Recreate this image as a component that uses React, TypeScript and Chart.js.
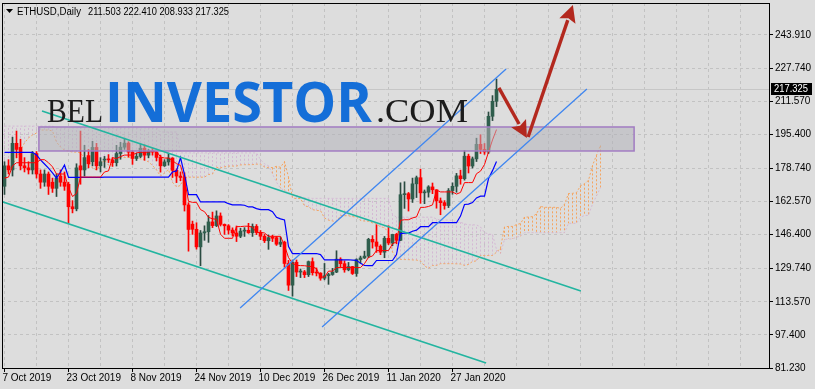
import React, { useEffect, useRef } from 'react';
import { Chart, registerables } from 'chart.js';

Chart.register(...registerables);

// ---------- data (daily bars from 7 Oct 2019, index 0) ----------
const symbolTitle = 'ETHUSD,Daily';
const lastBar = [211.503, 222.41, 208.933, 217.325];

const dateLabels = ['7 Oct 2019', '23 Oct 2019', '8 Nov 2019', '24 Nov 2019', '10 Dec 2019', '26 Dec 2019', '11 Jan 2020', '27 Jan 2020'];
const priceTicks = [81.23, 97.4, 113.57, 129.74, 146.4, 162.57, 178.74, 195.4, 211.57, 227.74, 243.91];

const opens = [
  170, 180, 178, 191, 189, 180, 179, 178, 186, 176, 172, 176, 172, 169, 175, 172, 171, 160, 159, 180, 178, 185, 182, 189, 180,
  182.8, 183.2, 182.9, 181.5, 186.0, 189.1, 191.1, 186.7, 183.6, 184.6, 188.6, 185.2, 187.2, 186.7, 184.1, 180.0, 181.9, 183.8, 177.8, 175.0, 174.3, 160.9, 151.5, 149.0, 140.4, 147.2, 147.8, 152.6, 150.8, 155.5,
  151.4, 150.7, 148.6, 147.2, 145.6, 148.1, 148.5, 147.3, 150.4, 147.4, 145.6, 143.4, 144.9, 144.9, 141.7, 142.7, 132.3, 121.7, 132.9, 128.1, 128.2, 126.8, 133.2, 127.8, 127.6, 125.1, 126.3, 126.9, 128.1, 134.4, 132.2,
  129.2, 130.8, 127.4, 134.2, 135.0, 135.9, 144.1, 142.8, 140.7, 137.8, 144.6, 142.3, 146.5, 143.6, 165.9, 166.4, 163.8, 171.2, 174.2, 166.8, 167.1, 169.7, 168.3, 162.9, 162.0, 160.6, 167.9, 170.0, 175.1, 173.7, 184.7,
  179.9, 183.4, 190.5, 188.0, 186.8, 204.2, 211.503,
];
const highs = [
  182, 183, 194, 197, 193, 184, 182, 187, 187, 178, 178, 177, 174, 176, 178, 177, 172, 163, 181, 197, 190, 188, 192, 191, 184,
  184.6, 185.5, 184, 190, 191.5, 193.5, 191.8, 187.5, 186.1, 190.7, 190.3, 188, 188.6, 187, 185.2, 183, 186, 184, 178.5, 177, 176.6, 162, 153, 152.2, 148.4, 150.7, 155.7, 157.4, 158, 157,
  151.6, 151.3, 149.7, 150.6, 149.5, 149.8, 151.9, 151.6, 151.3, 148.4, 146.5, 146.2, 146.1, 145.5, 145.2, 143.2, 133.8, 134, 134, 129.6, 128.9, 133.5, 135, 130.1, 127.8, 132.3, 127.5, 129.9, 138.5, 135.1, 133.6,
  132.8, 130.9, 134.6, 135.9, 138.3, 144.6, 145.9, 151.2, 141.4, 145.5, 150.7, 146.6, 147, 171.7, 172.2, 167, 174, 175, 178.4, 168.2, 170.3, 171.6, 168.3, 164.3, 163, 168.9, 171.7, 176.3, 177.9, 187.5, 185.7,
  184.3, 193.5, 195.2, 190.9, 206.3, 214.3, 222.41,
];
const lows = [
  166, 176, 175, 184, 178, 177, 176, 176, 174, 169, 170, 166, 167, 165, 170, 168, 152, 157, 158, 171, 175, 179, 180, 178, 177,
  179.2, 181.6, 179.7, 179.9, 183.2, 188, 184.3, 180.7, 182.6, 184, 182.7, 183.9, 185.2, 182.4, 176.9, 179.7, 180.3, 174.3, 171.8, 172.7, 157.9, 138.3, 146.5, 139.3, 131.2, 143.6, 142.6, 149.8, 150.3, 150.6,
  146.5, 146.6, 145.7, 143, 144.9, 145.5, 147, 145.5, 146.4, 143.9, 142.5, 139.2, 143, 141.1, 140.5, 130.5, 119.1, 116.3, 125.9, 125.4, 125.4, 125.9, 126.6, 126.2, 124.1, 124.3, 122.1, 126.5, 127.8, 130.4, 128,
  128.7, 126.9, 126, 132.5, 134.7, 135.1, 139.8, 137.7, 136.6, 135.1, 141.5, 141, 141.9, 143.4, 159.2, 157.9, 162.1, 164.5, 161.7, 161.5, 164.7, 166.4, 159.3, 156.1, 158.8, 159.6, 166.1, 167.1, 171, 173, 176.5,
  178.9, 182.1, 186, 185.6, 186, 202.1, 208.933,
];
const closes = [
  180, 178, 191, 188, 180, 179, 178, 186, 176, 172, 176, 170, 169, 174, 172, 170, 160, 159, 179, 178, 184, 181, 189, 180, 182,
  183.2, 182.9, 181.5, 186.0, 189.1, 191.1, 186.7, 183.6, 184.6, 188.6, 185.2, 187.2, 186.7, 184.1, 180.0, 181.9, 183.8, 177.8, 175.0, 174.3, 160.9, 148.9, 149.0, 140.4, 147.2, 147.8, 152.6, 150.8, 155.5, 151.4,
  150.7, 148.6, 147.2, 145.6, 148.1, 148.5, 147.3, 150.4, 147.4, 145.6, 143.4, 144.9, 144.6, 141.7, 142.7, 132.3, 121.7, 132.9, 128.1, 128.2, 126.8, 133.2, 127.8, 127.6, 125.1, 126.3, 126.9, 128.1, 134.4, 132.2, 129.2,
  130.8, 127.4, 134.2, 135.0, 135.9, 144.1, 142.8, 140.7, 137.8, 144.6, 142.3, 146.5, 143.6, 165.9, 166.4, 163.8, 171.2, 174.2, 166.8, 167.1, 169.7, 168.3, 162.9, 162.0, 160.6, 167.9, 170.0, 175.1, 173.7, 184.7, 179.9,
  183.4, 190.5, 188.0, 186.8, 204.2, 211.5, 217.325,
];

// Ichimoku lines
const tenkan = [
  174, 174.5, 180, 181.5, 181.5, 181.5, 181.5, 181.5, 181.5, 183, 183, 181.5, 179.5, 176, 176, 176, 169.5, 165, 166.5, 174.5, 174.5, 174.5, 174.5, 174.5, 174.5,
  177, 177.5, 184, 183.5, 184.5, 185.25, 185.25, 185.25, 186.35, 186.6, 186.6, 186.7, 187.1, 187.1, 184.35, 183.8, 183.8, 182.5, 181.05, 180.2, 173.25, 162.65, 162.15, 162.15, 158.6, 157.6, 154.85, 154.1, 153.9, 146.6,
  144.6, 144.6, 144.6, 150.3, 150.3, 150.5, 150.5, 150, 147.45, 147.45, 147.2, 145.55, 145.55, 145.55, 145.55, 141.05, 135.2, 132.35, 131.4, 131.25, 131.2, 130.9, 130.75, 129.75, 125.65, 125.65, 128.55, 128.55, 130.3, 130.3, 130.3,
  130.3, 130.3, 130.3, 130.3, 132.25, 135.3, 135.95, 138.6, 138.6, 138.6, 138.6, 141.85, 142.95, 153.4, 153.65, 153.65, 154.55, 155.05, 159.7, 159.7, 160.15, 160.9, 168.15, 167.25, 167.25, 167.25, 167.25, 166.2, 167, 171.8, 171.8,
  171.8, 176.15, 177.4, 180.65, 186.7, 192.65, 197.7,
];
const kijun = [
  186.6, 186.6, 186.6, 186.6, 186.6, 186.6, 186.6, 186.6, 185.3, 182.9, 180.9, 178.9, 176.5, 174, 177, 180.4, 174.4, 174.4, 174.4, 174.4, 174.4, 174.4, 174.4, 174.4, 174.4,
  174.5, 174.5, 174.5, 174.5, 174.5, 174.5, 174.5, 174.5, 174.5, 174.5, 174.5, 174.5, 174.5, 174.5, 174.5, 174.5, 174.5, 177, 177.5, 184, 175.7, 165.9, 165.9, 165.9, 162.35, 162.35, 162.35, 162.35, 162.35, 162.35,
  162.35, 161.5, 160.95, 160.95, 160.95, 160.75, 159.9, 159.9, 159.1, 158.6, 158.6, 158.6, 157.6, 154.85, 154.1, 153.55, 140.55, 137.15, 137.15, 137.15, 137.15, 137.15, 137.15, 137.15, 136.65, 134.1, 134.1, 134.1, 134.1, 134.1, 134.1,
  134.1, 133.95, 133.8, 132.35, 131.4, 131.25, 131.2, 133.75, 133.75, 133.75, 133.75, 133.75, 136.65, 146.9, 147.15, 147.15, 148.05, 148.55, 150.25, 150.25, 150.25, 152.2, 152.2, 152.2, 152.2, 152.2, 152.2, 152.2, 155.45, 161.1, 161.3,
  162.05, 164.3, 165.15, 165.15, 173.65, 177.65, 182.15,
];
// Senkou spans, already shifted 26 bars ahead (index 0..149)
const spanA = [
  175.5, 178, 180.4, 183.8, 187.7, 191.2, 193.6, 195.1, 196.0, 197.5, 197.5, 197.5, 197.0, 191.6, 189.2, 187.7, 187.2, 186.7, 186.7, 186.3, 183.8, 181.4, 178.9, 178.0, 180.4, 182.9,
  180.3, 180.55, 183.3, 184.05, 184.05, 184.05, 184.05, 184.05, 183.4, 182.95, 181.95, 180.2, 178, 175, 176.5, 178.2, 171.95, 169.7, 170.45, 174.45, 174.45, 174.45, 174.45, 174.45,
  174.45, 175.75, 176, 179.25, 179, 179.5, 179.875, 179.875, 179.875, 180.425, 180.55, 180.55, 180.6, 180.8, 180.8, 179.425, 179.15, 179.15, 179.75, 179.275, 182.1, 174.475, 164.275, 164.025, 164.025, 160.475,
  159.975, 158.6, 158.225, 158.125, 154.475, 153.475, 153.05, 152.775, 155.625, 155.625, 155.625, 155.2, 154.95, 153.275, 153.025, 152.9, 152.075, 151.575, 150.2, 149.825, 147.3, 137.875, 134.75, 134.275, 134.2, 134.175,
  134.025, 133.95, 133.45, 131.15, 129.875, 131.325, 131.325, 132.2, 132.2, 132.2, 132.2, 132.125, 132.05, 131.325, 131.825, 133.275, 133.575, 136.175, 136.175, 136.175, 136.175, 137.8, 139.8, 150.15, 150.4, 150.4,
  151.3, 151.8, 154.975, 154.975, 155.2, 156.55, 160.175, 159.725, 159.725, 159.725, 159.725, 159.2, 161.225, 166.45, 166.55, 166.925, 170.225, 171.275, 172.9, 180.175, 185.15, 189.925,
];
const spanB = [
  199.4, 199.4, 199.4, 199.4, 199.4, 199.4, 199.4, 199.4, 199.4, 199.4, 199.4, 199.4, 199.4,
  198.5, 198.5, 198.5, 198.5, 198.5, 198.5, 198.5, 198.5, 198.5, 198.5, 198.5, 198.5, 198.5, 198.5, 198.5, 198.5, 198.5, 198.5, 198.5, 198.5, 198.5, 198.5, 198.5, 198.5, 198.5, 198.5,
  196.5, 196.5, 196.5, 196.5, 196.5,
  186.3, 186.3, 186.3, 186.3, 186.3, 186.3, 186.3, 186.3, 186.3, 186.3, 186.3, 186.3, 186.3, 186.3, 186.3, 186.3, 186.3, 186.3, 186.3, 186.3,
  183, 181, 180, 176, 172, 169, 168, 167, 166, 165.5, 165, 164.5, 164.3,
  164.1, 164.1, 164.1, 164.1, 164.1, 164.1, 164.1, 164.1, 164.1, 164.1, 164.1, 164.1, 164.1, 164.1, 164.1, 164.1, 164.1, 164.1, 164.1, 164.1,
  156.3, 154.9, 154.9, 154.9, 154.9, 154.9, 154.9, 154.9, 154.9, 154.9, 154.9, 154.05, 153.5, 153.5, 153.5, 153.3, 152.45, 152.45, 151.65, 151.15, 151.15, 151.15,
  150.15, 147.4, 146.65, 146.45, 139.15, 137.15, 144, 144.25, 144.25, 145.15, 145.65,
  147.35, 147.35, 147.35, 147.35, 147.35, 147.35, 147.35, 147.35, 147.35, 147.35, 147.35,
  151.9, 151.9, 151.9, 154.9, 155.75, 155.75, 161.3, 165.3, 169.35,
];

// drawn objects, in (bar index, price)
const zoneBox = [8.6, 198.97, 157.4, 187.25];
const tealLine1 = [9.375, 206.79, 144.1, 118.85];
const tealLine2 = [-1.125, 162.82, 120.4, 83.68];
const blueLine1 = [58.9, 110.55, 125.4, 227.31];
const blueLine2 = [79.4, 101.27, 145.6, 217.54];
const arrowDown = [123.6, 218.05, 130.6, 193.6];
const arrowUp = [130.9, 194.1, 142.1, 258.57];

// ---------- styling ----------
const BG = '#dddddd';
const GRID = '#c2c2c2';
const BULL = '#2f5e4d';
const BULL_WICK = '#2a4a40';
const BEAR = '#ff0000';
const FONT = '"Liberation Sans", Arial, sans-serif';

function drawArrow(ctx: CanvasRenderingContext2D, x1: number, y1: number, x2: number, y2: number, color: string, width: number, head: number) {
  const ang = Math.atan2(y2 - y1, x2 - x1);
  const hx = x2 - head * Math.cos(ang);
  const hy = y2 - head * Math.sin(ang);
  ctx.strokeStyle = color;
  ctx.lineWidth = width;
  ctx.lineCap = 'butt';
  ctx.beginPath();
  ctx.moveTo(x1, y1);
  ctx.lineTo(hx + 1 * Math.cos(ang), hy + 1 * Math.sin(ang));
  ctx.stroke();
  const w = head * 0.5;
  ctx.fillStyle = color;
  ctx.beginPath();
  ctx.moveTo(x2, y2);
  ctx.lineTo(hx + w * Math.sin(ang), hy - w * Math.cos(ang));
  ctx.lineTo(hx + 3 * Math.cos(ang), hy + 3 * Math.sin(ang));
  ctx.lineTo(hx - w * Math.sin(ang), hy + w * Math.cos(ang));
  ctx.closePath();
  ctx.fill();
}

function fitText(ctx: CanvasRenderingContext2D, text: string, x: number, y: number, width: number) {
  const w = ctx.measureText(text).width;
  ctx.save();
  ctx.translate(x, y);
  ctx.scale(width / w, 1);
  ctx.fillText(text, 0, 0);
  ctx.restore();
}

export default function App() {
  const ref = useRef<HTMLCanvasElement>(null);

  useEffect(() => {
    document.body.style.margin = '0';
    const canvas = ref.current;
    if (!canvas) return;

    const bull = closes.map((c, i) => c >= opens[i]);
    const wickData = highs.map((h, i) => ({ x: i, y: [lows[i], h] }));
    const bodyData = opens.map((o, i) => ({ x: i, y: [o, closes[i]] }));
    const line = (arr: number[]) => arr.map((v, i) => ({ x: i, y: v }));

    const overlay = {
      id: 'overlay',
      beforeDatasetsDraw(chart: any) {
        const { ctx, chartArea: a, scales } = chart;
        const xs = scales.x, ys = scales.y;
        ctx.save();
        ctx.beginPath();
        ctx.rect(a.left, a.top, a.right - a.left, a.bottom - a.top);
        ctx.clip();
        // last price line
        const yp = Math.round(ys.getPixelForValue(lastBar[3])) + 0.5;
        ctx.strokeStyle = '#c6c6c6';
        ctx.lineWidth = 1;
        ctx.beginPath();
        ctx.moveTo(a.left, yp);
        ctx.lineTo(a.right, yp);
        ctx.stroke();
        // cloud hatch
        ctx.setLineDash([2, 2]);
        for (let j = 0; j < spanA.length; j++) {
          const xx = Math.floor(xs.getPixelForValue(j)) + 0.5;
          const ya = ys.getPixelForValue(spanA[j]);
          const yb = ys.getPixelForValue(spanB[j]);
          ctx.strokeStyle = spanA[j] >= spanB[j] ? '#f4a460' : '#d4b8d4';
          ctx.beginPath();
          ctx.moveTo(xx, ya);
          ctx.lineTo(xx, yb);
          ctx.stroke();
        }
        ctx.restore();
      },
      afterDatasetsDraw(chart: any) {
        const { ctx, chartArea: a, scales } = chart;
        const X = (v: number) => scales.x.getPixelForValue(v);
        const Y = (v: number) => scales.y.getPixelForValue(v);
        ctx.save();
        ctx.beginPath();
        ctx.rect(a.left, a.top, a.right - a.left, a.bottom - a.top);
        ctx.clip();
        // zone rectangle
        const rx0 = X(zoneBox[0]), ry0 = Y(zoneBox[1]), rx1 = X(zoneBox[2]), ry1 = Y(zoneBox[3]);
        ctx.fillStyle = 'rgba(178,178,186,0.55)';
        ctx.fillRect(rx0, ry0, rx1 - rx0, ry1 - ry0);
        ctx.strokeStyle = '#a27cc2';
        ctx.lineWidth = 1.5;
        ctx.strokeRect(rx0, ry0, rx1 - rx0, ry1 - ry0);
        // trend lines
        const seg = (l: number[], color: string, w: number) => {
          ctx.strokeStyle = color;
          ctx.lineWidth = w;
          ctx.beginPath();
          ctx.moveTo(X(l[0]), Y(l[1]));
          ctx.lineTo(X(l[2]), Y(l[3]));
          ctx.stroke();
        };
        seg(tealLine1, '#22b5a0', 1.6);
        seg(tealLine2, '#22b5a0', 1.6);
        seg(blueLine1, '#3f86f0', 1.3);
        seg(blueLine2, '#3f86f0', 1.3);
        // arrows
        drawArrow(ctx, X(arrowDown[0]), Y(arrowDown[1]), X(arrowDown[2]), Y(arrowDown[3]), '#b3281e', 3.4, 17);
        drawArrow(ctx, X(arrowUp[0]), Y(arrowUp[1]), X(arrowUp[2]), Y(arrowUp[3]), '#b3281e', 3.4, 17);
        ctx.restore();

        // watermark logo
        ctx.save();
        ctx.textBaseline = 'alphabetic';
        ctx.textAlign = 'left';
        ctx.fillStyle = '#1c1c1c';
        ctx.font = '34px "Liberation Serif", "DejaVu Serif", serif';
        fitText(ctx, 'BEL', 47, 122, 56);
        ctx.fillStyle = '#146ed8';
        ctx.font = 'bold 56px "Open Sans", "Liberation Sans", sans-serif';
        fitText(ctx, 'INVESTOR', 105, 122, 267);
        ctx.fillStyle = '#1c1c1c';
        ctx.font = '34px "Liberation Serif", "DejaVu Serif", serif';
        fitText(ctx, '.COM', 376, 122, 92);
        ctx.restore();

        // frame
        ctx.save();
        ctx.strokeStyle = '#000';
        ctx.lineWidth = 1;
        ctx.strokeRect(a.left + 0.5, a.top + 0.5, a.right - a.left, a.bottom - a.top);
        ctx.restore();
      },
      afterDraw(chart: any) {
        const { ctx, scales } = chart;
        ctx.save();
        // header
        ctx.fillStyle = '#000';
        ctx.beginPath();
        ctx.moveTo(6, 9);
        ctx.lineTo(13, 9);
        ctx.lineTo(9.5, 13);
        ctx.closePath();
        ctx.fill();
        ctx.font = '10px ' + FONT;
        ctx.textBaseline = 'alphabetic';
        ctx.textAlign = 'left';
        fitText(ctx, symbolTitle, 17, 14.5, 64);
        fitText(ctx, lastBar.map((v) => v.toFixed(3)).join(' '), 88, 14.5, 141);
        // last price box on axis
        const yp = Math.round(scales.y.getPixelForValue(lastBar[3]));
        ctx.fillStyle = '#000';
        ctx.fillRect(771, yp - 6, 41, 12);
        ctx.fillStyle = '#fff';
        ctx.font = '10px ' + FONT;
        ctx.textBaseline = 'middle';
        fitText(ctx, lastBar[3].toFixed(3), 774, yp + 0.5, 34);
        ctx.restore();
      },
    };

    const chart = new Chart(canvas, {
      type: 'bar',
      data: {
        datasets: [
          {
            type: 'line',
            label: 'Tenkan-sen',
            data: line(tenkan),
            borderColor: '#ff0000',
            borderWidth: 1,
            pointRadius: 0,
            order: 1,
          } as any,
          {
            type: 'line',
            label: 'Kijun-sen',
            data: line(kijun),
            borderColor: '#0000ff',
            borderWidth: 1.2,
            pointRadius: 0,
            order: 1,
          } as any,
          {
            type: 'line',
            label: 'Senkou Span A',
            data: line(spanA),
            borderColor: '#f4a460',
            borderWidth: 1,
            borderDash: [2, 2],
            pointRadius: 0,
            order: 6,
          } as any,
          {
            type: 'line',
            label: 'Senkou Span B',
            data: line(spanB),
            borderColor: '#d4b8d4',
            borderWidth: 1,
            borderDash: [2, 2],
            pointRadius: 0,
            order: 6,
          } as any,
          {
            label: 'wick',
            data: wickData,
            backgroundColor: bull.map((b) => (b ? BULL_WICK : BEAR)),
            barThickness: 1,
            grouped: false,
            order: 4,
          } as any,
          {
            label: 'body',
            data: bodyData,
            backgroundColor: bull.map((b) => (b ? BULL : BEAR)),
            barThickness: 3,
            minBarLength: 1,
            grouped: false,
            order: 3,
          } as any,
        ],
      },
      options: {
        responsive: false,
        maintainAspectRatio: false,
        animation: false,
        events: [],
        layout: { padding: { left: 2, top: 3, right: 0, bottom: 0 } },
        plugins: { legend: { display: false }, tooltip: { enabled: false }, title: { display: false } },
        scales: {
          x: {
            type: 'linear',
            position: 'bottom',
            min: -0.625,
            max: 191.125,
            offset: false,
            afterBuildTicks: (s: any) => {
              const t = [];
              for (let v = 0; v <= 184; v += 8) t.push({ value: v });
              s.ticks = t;
            },
            afterFit: (s: any) => {
              s.height = 21;
              s.paddingLeft = 0;
              s.paddingRight = 0;
            },
            ticks: {
              autoSkip: false,
              maxRotation: 0,
              minRotation: 0,
              align: 'start',
              padding: 0,
              labelOffset: -2,
              color: '#000',
              font: { family: FONT, size: 10 },
              callback: (v: any) => {
                const n = Number(v);
                return n % 16 === 0 && n / 16 < dateLabels.length ? dateLabels[n / 16] : '';
              },
            },
            grid: {
              offset: false,
              color: GRID,
              lineWidth: 1,
              drawTicks: true,
              tickLength: 4,
              tickColor: (c: any) => {
                const v = c.tick ? c.tick.value : -1;
                return v % 16 === 0 && v / 16 < dateLabels.length ? '#000' : 'rgba(0,0,0,0)';
              },
            },
            border: { display: false, dash: [3, 3] },
          } as any,
          y: {
            type: 'linear',
            position: 'right',
            min: 81.23,
            max: 259.54,
            beginAtZero: false,
            afterBuildTicks: (s: any) => {
              s.ticks = priceTicks.map((v) => ({ value: v }));
            },
            afterFit: (s: any) => {
              s.width = 46;
              s.paddingTop = 0;
              s.paddingBottom = 0;
            },
            ticks: {
              padding: 2,
              color: '#000',
              font: { family: FONT, size: 10 },
              callback: (v: any) => Number(v).toFixed(3),
            },
            grid: { color: GRID, lineWidth: 1, tickLength: 4, tickColor: '#000' },
            border: { display: false, dash: [3, 3] },
          } as any,
        },
      },
      plugins: [overlay],
    } as any);

    return () => chart.destroy();
  }, []);

  return (
    <div style={{ position: 'fixed', left: 0, top: 0, width: 815, height: 389, background: BG }}>
      <canvas ref={ref} width={815} height={389} style={{ display: 'block' }} />
    </div>
  );
}
